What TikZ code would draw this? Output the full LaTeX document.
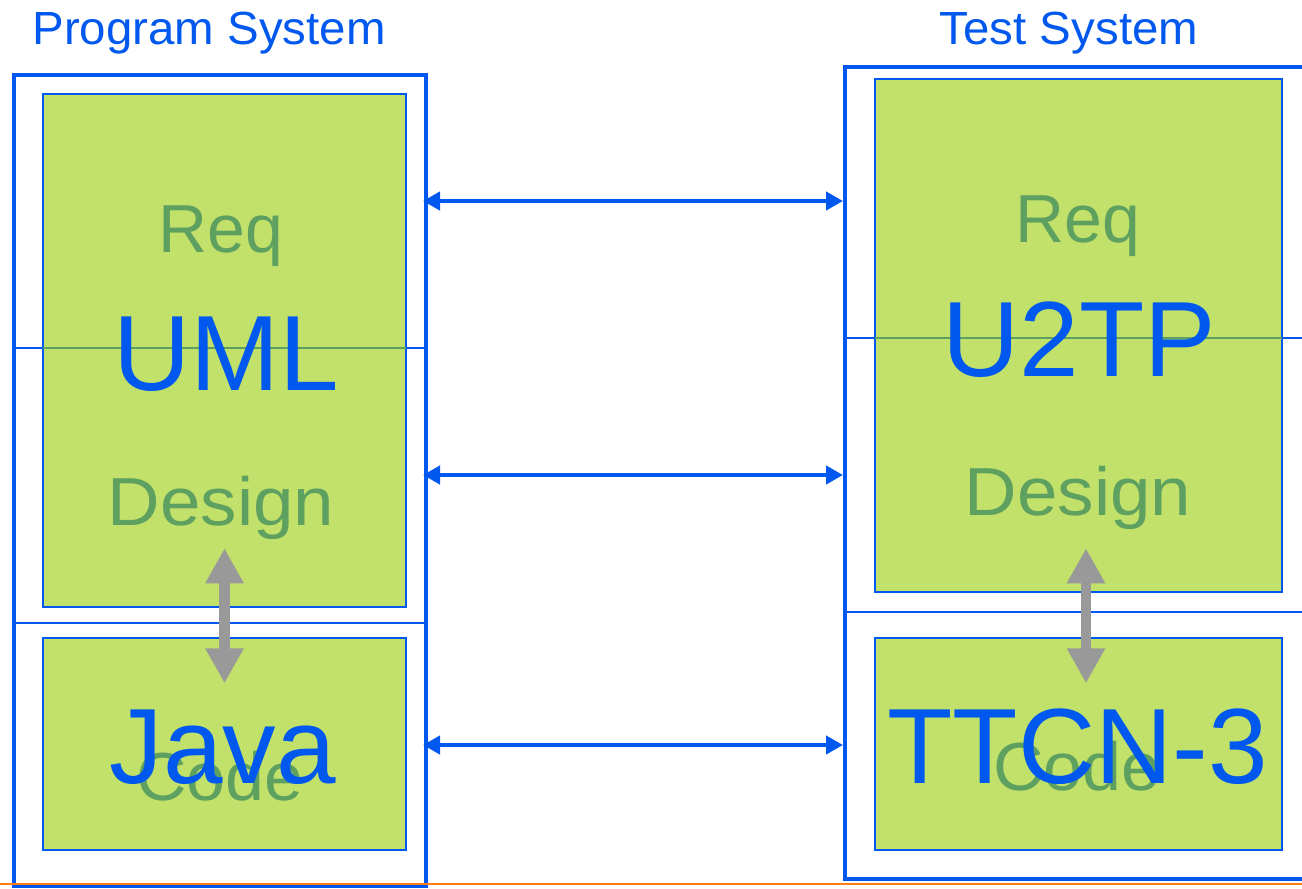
\documentclass[tikz,border=0pt]{standalone}
\usepackage{fontspec}
\usepackage{graphicx}
\setmainfont{Liberation Sans}
\usetikzlibrary{arrows.meta}
\definecolor{sysblue}{HTML}{0058EE}
\definecolor{stagefill}{HTML}{C2E16A}
\definecolor{phasegreen}{HTML}{5EA060}
\definecolor{refgray}{HTML}{999999}
\definecolor{baseorange}{HTML}{FF8010}
\newcommand\setfs[1]{\fontsize{#1}{#1}\selectfont}
\newcommand\wide[2]{\scalebox{#1}[1]{#2}}
\begin{document}
\begin{tikzpicture}[x=1pt,y=-1pt,
  outerbox/.style={draw=sysblue,line width=4pt,inner sep=0pt,outer sep=0pt},
  stagebox/.style={draw=sysblue,line width=1.6pt,fill=stagefill,inner sep=0pt,outer sep=0pt,minimum width=#1},
  divider/.style={draw=sysblue,line width=1.8pt},
  dividerin/.style={draw=phasegreen,line width=1.8pt},
  title/.style={text=sysblue,inner sep=0pt,anchor=base,font=\setfs{46.5}},
  phase/.style={text=phasegreen,inner sep=0pt,anchor=base,font=\setfs{68}},
  lang/.style={text=sysblue,inner sep=0pt,anchor=base,font=\setfs{107}},
  link/.style={draw=sysblue,line width=4.8pt,{Triangle[length=17pt,width=18pt]}-{Triangle[length=17pt,width=18pt]}},
  refine/.style={draw=refgray,line width=10.7pt,{Triangle[length=35pt,width=36pt]}-{Triangle[length=35pt,width=36pt]}}]
\useasboundingbox (0,0) rectangle (1302,889);
\clip (0,0) rectangle (1302,889);

% system frames
\node[outerbox,minimum width=412pt,minimum height=811pt] (prog) at (220,480.5) {};
\node[outerbox,minimum width=465pt,minimum height=812pt] (test) at (1077.5,473) {};

% level dividers
\coordinate (pd1w) at (14,348);   \coordinate (pd1e) at (426,348);
\coordinate (pd2w) at (14,623);   \coordinate (pd2e) at (426,623);
\coordinate (td1w) at (845,338);  \coordinate (td1e) at (1302,338);
\coordinate (td2w) at (845,612);  \coordinate (td2e) at (1302,612);
\draw[divider] (pd1w) -- (pd1e);
\draw[divider] (pd2w) -- (pd2e);
\draw[divider] (td1w) -- (td1e);
\draw[divider] (td2w) -- (td2e);

% stage boxes
\node[stagebox=363pt,minimum height=513pt] (uml)  at (224.5,350.5) {};
\node[stagebox=363pt,minimum height=212pt] (java) at (224.5,744) {};
\node[stagebox=407pt,minimum height=513pt] (u2tp) at (1078.5,335.5) {};
\node[stagebox=407pt,minimum height=212pt] (ttcn) at (1078.5,744) {};

% dividers seen through the stage boxes
\draw[dividerin] (uml.west |- pd1w) -- (uml.east |- pd1w);
\draw[dividerin] (u2tp.west |- td1w) -- (u2tp.east |- td1w);

% titles
\node[title] (progtitle) at (209,44.3) {\wide{1.02}{Program System}};
\node[title] (testtitle) at (1069,44.3) {\wide{1.02}{Test System}};

% phase labels
\node[phase] (reqL)    at (221,252.7) {Req};
\node[phase] (designL) at (221,525) {\wide{1.07}{Design}};
\node[phase] (codeL)   at (220,800) {\wide{1.03}{Code}};
\node[phase] (reqR)    at (1077.5,242.7) {Req};
\node[phase] (designR) at (1078,515) {\wide{1.07}{Design}};
\node[phase] (codeR)   at (1077,790) {\wide{1.03}{Code}};

% language labels
\node[lang] (umlT)  at (226.5,390) {UML};
\node[lang] (javaT) at (223,783.3) {Java};
\node[lang] (u2tpT) at (1079,376.7) {U2TP};
\node[lang] (ttcnT) at (1077.5,783.3) {TTCN-3};

% refinement arrows
\coordinate (rLt) at (224.5,548.3); \coordinate (rLb) at (224.5,683.3);
\coordinate (rRt) at (1086,548.3);  \coordinate (rRb) at (1086,683.3);
\draw[refine] (rLt) -- (rLb);
\draw[refine] (rRt) -- (rRb);

% correspondence arrows between the systems
\foreach \y [count=\i] in {201,475,745} {
  \coordinate (l\i) at (prog.east |- 0,\y);
  \coordinate (r\i) at (test.west |- 0,\y);
  \draw[link] ([xshift=-3pt]l\i) -- ([xshift=-2pt]r\i);
}

% base line
\coordinate (bw) at (0,884);
\coordinate (be) at (1302,884);
\draw[draw=baseorange,line width=2.5pt] (bw) -- (be);
\end{tikzpicture}
\end{document}
